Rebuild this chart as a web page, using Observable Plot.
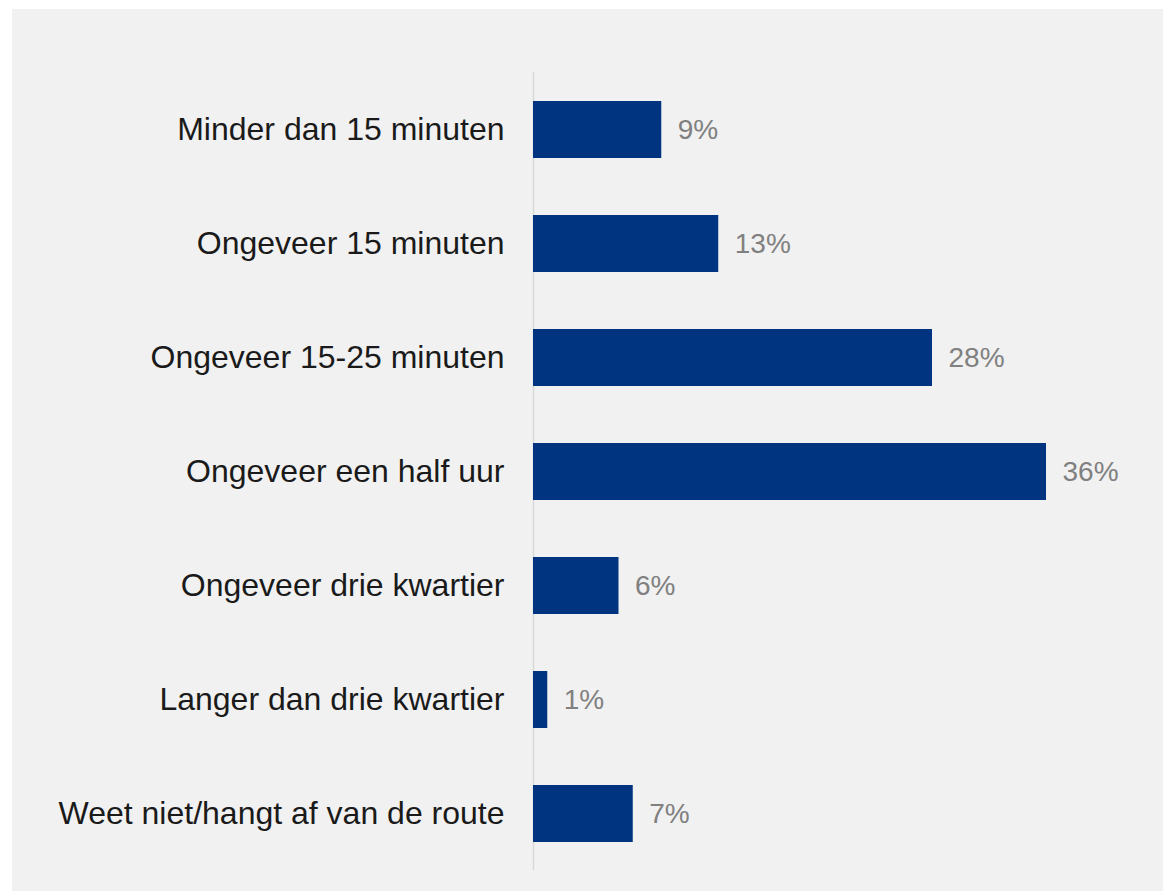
<!DOCTYPE html>
<html>
<head>
<meta charset="utf-8">
<script src="https://cdn.jsdelivr.net/npm/d3@7"></script>
<script src="https://cdn.jsdelivr.net/npm/@observablehq/plot@0.6"></script>
<style>
  html, body { margin: 0; padding: 0; background: #ffffff; }
  #chart { position: absolute; left: 12px; top: 9px; width: 1151px; height: 882px; background: #f1f1f1; }
  #chart svg { display: block; }
</style>
</head>
<body>
<div id="chart"></div>
<script>
const categories = [
  "Minder dan 15 minuten",
  "Ongeveer 15 minuten",
  "Ongeveer 15-25 minuten",
  "Ongeveer een half uur",
  "Ongeveer drie kwartier",
  "Langer dan drie kwartier",
  "Weet niet/hangt af van de route"
];
const values = [9, 13, 28, 36, 6, 1, 7];
const valueLabels = ["9%", "13%", "28%", "36%", "6%", "1%", "7%"];

const data = categories.map((c, i) => ({category: c, value: values[i], label: valueLabels[i]}));

const chart = Plot.plot({
  width: 1151,
  height: 882,
  marginLeft: 521,
  marginRight: 117,
  marginTop: 63,
  marginBottom: 21,
  style: {background: "transparent", fontFamily: "Liberation Sans, Arial, sans-serif"},
  x: {domain: [0, 36], axis: null},
  y: {domain: categories, paddingInner: 0.5, paddingOuter: 0.25, align: 0.5, axis: null},
  marks: [
    Plot.ruleX([0], {stroke: "#d9d9d9", strokeWidth: 1.5}),
    Plot.barX(data, {x: "value", y: "category", fill: "#003380"}),
    Plot.text(data, {x: "value", y: "category", text: "label", dx: 16, textAnchor: "start", fill: "#808080", fontSize: 28}),
    Plot.text(data, {x: 0, y: "category", text: "category", dx: -29, textAnchor: "end", fill: "#1a1a1a", fontSize: 32})
  ]
});
document.getElementById("chart").appendChild(chart);
</script>
</body>
</html>
